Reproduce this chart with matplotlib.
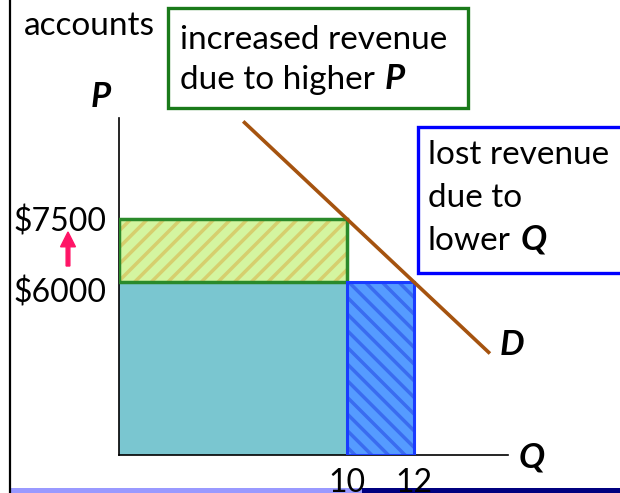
import matplotlib.pyplot as plt
from matplotlib.patches import Rectangle, FancyArrow
import matplotlib.transforms as mtransforms

# Données (prix, quantités)
p_old, p_new = 6000, 7500
q_new, q_old = 10, 12
q_ticks = [10, 12]
p_ticks = [6000, 7500]
p_labels = ['$6000', '$7500']
# droite de demande
d_q = [6.9, 14.27]
d_p = [9825, 4297]

W, H = 620, 493
plt.rcParams['font.family'] = ['Lato', 'DejaVu Sans']
plt.rcParams['hatch.linewidth'] = 2.5

fig = plt.figure(figsize=(W / 100, H / 100), dpi=100)


def fx(px):
    return px / W


def fy(py):
    return 1 - py / H


# axes positionnés en pixels
ax = fig.add_axes([fx(119), fy(455), fx(508) - fx(119), fy(118) - fy(455)])
ax.set_xlim(3.19, 14.81)
ax.set_ylim(1881, 9905)
ax.patch.set_visible(False)
for s in ['top', 'right']:
    ax.spines[s].set_visible(False)
ax.spines['left'].set_linewidth(1.2)
ax.spines['bottom'].set_linewidth(1.2)

q0, p0 = ax.get_xlim()[0], ax.get_ylim()[0]

# revenu restant
ax.add_patch(Rectangle((q0, p0), q_new - q0, p_old - p0, facecolor='#7ac6d0',
                       edgecolor='#8fc8e8', lw=0.8, zorder=2))
# revenu gagné (prix plus élevé)
ax.add_patch(Rectangle((q0, p_old), q_new - q0, p_new - p_old, facecolor='#d4f5a0',
                       edgecolor='#d6cf6e', hatch='//', lw=0, zorder=2))
ax.add_patch(Rectangle((q0, p_old), q_new - q0, p_new - p_old, facecolor='none',
                       edgecolor='#2a8a2a', lw=2.5, zorder=3))
# revenu perdu (quantité plus faible)
ax.add_patch(Rectangle((q_new, p0), q_old - q_new, p_old - p0, facecolor='#559bff',
                       edgecolor='#3a6cf0', hatch='\\\\', lw=0, zorder=2))
ax.add_patch(Rectangle((q_new, p0), q_old - q_new, p_old - p0, facecolor='none',
                       edgecolor='#1a3cff', lw=2.2, zorder=3))

ax.plot(d_q, d_p, color='#a5530f', lw=2.6, zorder=4, solid_capstyle='butt')

ax.set_xticks(q_ticks)
ax.set_xticklabels([str(q) for q in q_ticks], fontsize=23)
ax.set_yticks(p_ticks)
ax.set_yticklabels(p_labels, fontsize=23)
ax.tick_params(length=0, pad=9)
# décale un peu $6000 vers le bas
lab = ax.get_yticklabels()[0]
lab.set_transform(lab.get_transform() + mtransforms.ScaledTranslation(0, -8 / 100, fig.dpi_scale_trans))

txt = dict(fontsize=24, va='baseline', ha='left')
bi = dict(fontweight='bold', style='italic', fontsize=25)

fig.text(fx(101), fy(97), 'P', ha='center', va='center', **bi)
fig.text(fx(532), fy(457), 'Q', ha='center', va='center', **bi)
fig.text(fx(512), fy(345), 'D', ha='center', va='center', **bi)

fig.text(fx(24), fy(35), 'accounts', **txt)

renderer = fig.canvas.get_renderer()


def suivi(t, lettre):
    # place la lettre grasse italique juste après le texte t
    bb = t.get_window_extent(renderer)
    x, y = t.get_position()
    fig.text(bb.x1 / W + fx(10), y, lettre, ha='left', va='baseline', **bi)


# boîte verte
fig.patches.append(Rectangle((fx(168), fy(108)), fx(468) - fx(168), fy(8) - fy(108),
                             transform=fig.transFigure, facecolor='white',
                             edgecolor='#1a7a1a', lw=2.4))
fig.text(fx(180), fy(49), 'increased revenue', **txt)
t = fig.text(fx(180), fy(89), 'due to higher', **txt)
suivi(t, 'P')

# boîte bleue
fig.patches.append(Rectangle((fx(418), fy(273)), fx(640) - fx(418), fy(127) - fy(273),
                             transform=fig.transFigure, facecolor='white',
                             edgecolor='#0000ff', lw=2.4))
fig.text(fx(428), fy(164), 'lost revenue', **txt)
fig.text(fx(428), fy(207), 'due to', **txt)
t = fig.text(fx(428), fy(250), 'lower', **txt)
suivi(t, 'Q')

# flèche rose
fig.patches.append(FancyArrow(fx(68), fy(266), 0, fy(232) - fy(266), width=0.006,
                              head_width=0.024, head_length=0.03,
                              length_includes_head=True, transform=fig.transFigure,
                              color='#ff1466'))

# bordure et bande du bas
fig.add_artist(plt.Line2D([fx(10), fx(10)], [0, 1], color='black', lw=1.6))
fig.patches.append(Rectangle((fx(10), 0), fx(362) - fx(10), 5 / H, transform=fig.transFigure,
                             facecolor='#9999ff', edgecolor='none', zorder=-1))
fig.patches.append(Rectangle((fx(362), 0), 1 - fx(362), 5 / H, transform=fig.transFigure,
                             facecolor='#00007f', edgecolor='none', zorder=-1))

fig.savefig('out.png', dpi=100)
